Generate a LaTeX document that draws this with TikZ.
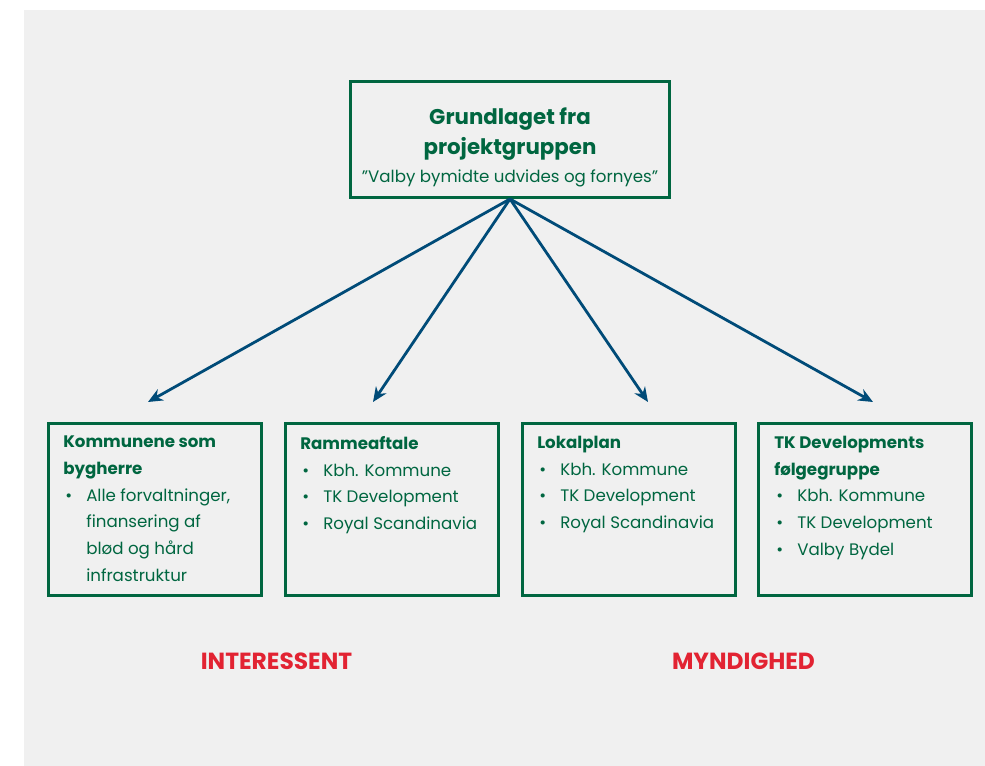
\documentclass[tikz,border=0pt]{standalone}
\usepackage{fontspec}
\setmainfont{Poppins}
\usetikzlibrary{arrows.meta}
\definecolor{boxgreen}{RGB}{0,102,64}
\definecolor{arrowblue}{RGB}{0,75,120}
\definecolor{labelred}{RGB}{226,35,50}
\definecolor{bggray}{RGB}{240,240,240}
\newcommand{\bul}{\makebox[17.25pt][l]{\hspace{1.5pt}\textbullet}}
\newcommand{\ind}{\hspace*{17.25pt}}
\begin{document}
\begin{tikzpicture}[x=0.75pt, y=-0.75pt,
    topbox/.style={draw=boxgreen, line width=2.25pt, minimum width=239.25pt, minimum height=87pt, inner sep=0pt},
    catbox/.style={draw=boxgreen, line width=2.25pt, minimum width=159.75pt, minimum height=129pt, inner sep=0pt},
    boxtext/.style={anchor=north west, inner sep=0pt, align=left, text=boxgreen, font=\fontsize{12.5}{20}\selectfont},
    arrow/.style={draw=arrowblue, line width=2.1pt, -{Stealth[length=11pt, width=9.5pt]}},
    sidelabel/.style={text=labelred, font=\fontsize{17.5}{20}\selectfont\bfseries}]
    % Background
    \useasboundingbox (0,0) rectangle (985,766);
    \fill[bggray] (24,10) rectangle (985,766);
    % Nodes
    \node (grundlag) [topbox] at (510,139.5) {};
    \node (grundtitle) [anchor=base, inner sep=0pt, text=boxgreen, font=\fontsize{16}{22.5}\selectfont\bfseries] at (510,125) {Grundlaget fra};
    \node (grundtitle2) [anchor=base, inner sep=0pt, text=boxgreen, font=\fontsize{16}{22.5}\selectfont\bfseries] at (510,155) {projektgruppen};
    \node (grundquote) [anchor=base, inner sep=0pt, text=boxgreen, font=\fontsize{12.5}{20}\selectfont] at (510,183) {”Valby bymidte udvides og fornyes”};
    \node (kommune) [catbox] at (155,509.5) {};
    \node (ramme) [catbox] at (392,509.5) {};
    \node (lokal) [catbox] at (629,509.5) {};
    \node (tkgruppe) [catbox] at (865,509.5) {};
    \node (kommunetxt) [boxtext] at (63,436) {\textbf{Kommunene som}\\\textbf{bygherre}\\\bul Alle forvaltninger,\\\ind finansering af\\\ind blød og hård\\\ind infrastruktur};
    \node (rammetxt) [boxtext] at (300,436) {\textbf{Rammeaftale}\\\bul Kbh. Kommune\\\bul TK Development\\\bul Royal Scandinavia};
    \node (lokaltxt) [boxtext] at (537,436) {\textbf{Lokalplan}\\\bul Kbh. Kommune\\\bul TK Development\\\bul Royal Scandinavia};
    \node (tkgruppetxt) [boxtext] at (774,436) {\textbf{TK Developments}\\\textbf{følgegruppe}\\\bul Kbh. Kommune\\\bul TK Development\\\bul Valby Bydel};
    \node (interessent) [sidelabel] at (276.5,661.5) {INTERESSENT};
    \node (myndighed) [sidelabel] at (743.5,661.5) {MYNDIGHED};
    % Arrows
    \coordinate (tip1) at (148,402);
    \coordinate (tip2) at (373,402);
    \coordinate (tip3) at (648,402);
    \coordinate (tip4) at (873,402);
    \draw[arrow] (grundlag.south) -- (tip1);
    \draw[arrow] (grundlag.south) -- (tip2);
    \draw[arrow] (grundlag.south) -- (tip3);
    \draw[arrow] (grundlag.south) -- (tip4);
\end{tikzpicture}
\end{document}
